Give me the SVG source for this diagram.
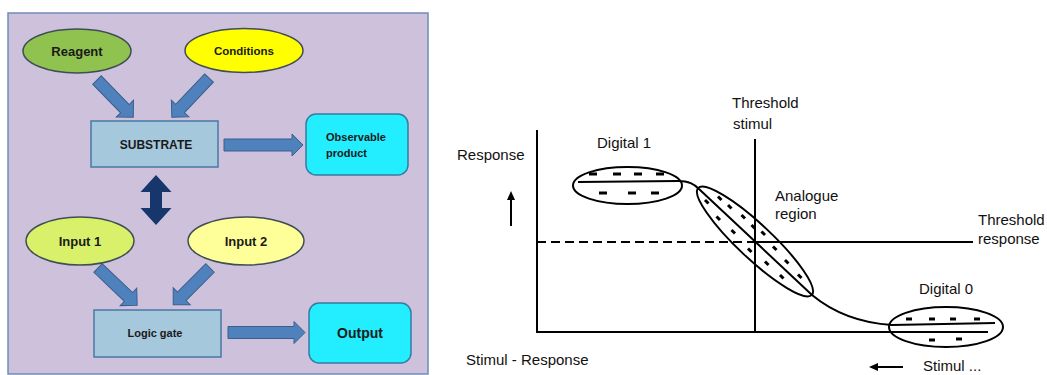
<svg xmlns="http://www.w3.org/2000/svg" width="1047" height="375" viewBox="0 0 1047 375">
<style>
.lbl{font-family:"Liberation Sans",Arial,sans-serif;font-weight:bold;fill:#1a1a1a}
.blk{fill:#4f81bd;stroke:#3a5f8c;stroke-width:1}
.box{fill:#a5c8dc;stroke:#4a78a6;stroke-width:1.5}
.cyan{fill:#22eeff;stroke:#3a7aa0;stroke-width:1.5}
.ell{stroke:#3f4d55;stroke-width:1.5}
.t{font-family:"Liberation Sans",Arial,sans-serif;font-size:15px;fill:#111}
.ln{stroke:#000;stroke-width:2;fill:none}
.dash{stroke:#000;stroke-width:3;stroke-linecap:butt}
</style>
<rect x="0" y="0" width="1047" height="375" fill="#fff"/>
<g id="left-panel">
<rect x="8" y="13" width="420" height="361" fill="#cdc1dc" stroke="#6f8db5" stroke-width="1.5"/>
</g>
<g id="connectors">
<path class="blk" transform="translate(97,80) rotate(45.8)" d="M0,-6 L40,-6 L40,-12 L52,0 L40,12 L40,6 L0,6 Z"/>
<path class="blk" transform="translate(209,78) rotate(133.5)" d="M0,-6 L42,-6 L42,-12 L54,0 L42,12 L42,6 L0,6 Z"/>
<path class="blk" transform="translate(224,145)" d="M0,-6 L68,-6 L68,-11 L79,0 L68,11 L68,6 L0,6 Z"/>
<path fill="#17366b" d="M156,175 L171.5,192 L162,192 L162,208 L171.5,208 L156,225 L140.5,208 L150,208 L150,192 L140.5,192 Z"/>
<path class="blk" transform="translate(98,268) rotate(43.5)" d="M0,-6 L42,-6 L42,-12 L54,0 L42,12 L42,6 L0,6 Z"/>
<path class="blk" transform="translate(210,268) rotate(135)" d="M0,-6 L40,-6 L40,-12 L52,0 L40,12 L40,6 L0,6 Z"/>
<path class="blk" transform="translate(228,332.5)" d="M0,-6 L66,-6 L66,-11 L77,0 L66,11 L66,6 L0,6 Z"/>
</g>
<g id="reagent">
<ellipse class="ell" cx="77" cy="51" rx="54" ry="22" fill="#8fc24f"/>
<text class="lbl" x="77" y="56" font-size="13" text-anchor="middle">Reagent</text>
</g>
<g id="conditions">
<ellipse class="ell" cx="244" cy="50.5" rx="59" ry="22" fill="#ffff00"/>
<text class="lbl" x="244" y="55" font-size="11.5" text-anchor="middle">Conditions</text>
</g>
<g id="substrate">
<rect class="box" x="91" y="121" width="127" height="46"/>
<text class="lbl" x="156" y="149" font-size="12" text-anchor="middle">SUBSTRATE</text>
</g>
<g id="observable">
<rect class="cyan" x="306" y="114" width="102" height="61" rx="10"/>
<text class="lbl" x="326" y="141" font-size="11">Observable</text>
<text class="lbl" x="326" y="157" font-size="11">product</text>
</g>
<g id="input1">
<ellipse class="ell" cx="80" cy="241" rx="54" ry="24" fill="#d8f06a"/>
<text class="lbl" x="80" y="246" font-size="13" text-anchor="middle">Input 1</text>
</g>
<g id="input2">
<ellipse class="ell" cx="246" cy="241" rx="58" ry="24" fill="#ffff99"/>
<text class="lbl" x="246" y="246" font-size="13" text-anchor="middle">Input 2</text>
</g>
<g id="logic-gate">
<rect class="box" x="94" y="310" width="127" height="47"/>
<text class="lbl" x="155" y="337" font-size="11" text-anchor="middle">Logic gate</text>
</g>
<g id="output">
<rect class="cyan" x="309" y="303" width="102" height="60" rx="10"/>
<text class="lbl" x="360" y="338" font-size="14" text-anchor="middle">Output</text>
</g>
<g id="graph">
<line class="ln" x1="537" y1="130" x2="537" y2="333"/>
<line class="ln" x1="536" y1="332" x2="988" y2="332"/>
<line class="ln" x1="755" y1="139" x2="755" y2="332"/>
<line class="ln" x1="537" y1="242" x2="755" y2="242" stroke-dasharray="9 5"/>
<line class="ln" x1="755" y1="242" x2="973" y2="242"/>
<path class="ln" d="M578,182 L678,181 C689,181 694,184 699,189 L812,295 C835,314 860,323 892,325 L995,323"/>
<ellipse class="ln" cx="627.5" cy="185.5" rx="54.5" ry="18.5"/>
<ellipse class="ln" cx="755" cy="241.5" rx="78" ry="17" transform="rotate(43.2 755 241.5)"/>
<ellipse class="ln" cx="946" cy="327" rx="57" ry="20"/>
<g class="dash">
<line x1="589" y1="174" x2="597" y2="174"/><line x1="613" y1="174" x2="621" y2="174"/><line x1="634" y1="174" x2="642" y2="174"/><line x1="656" y1="174" x2="664" y2="174"/>
<line x1="599" y1="193" x2="607" y2="193"/><line x1="628" y1="193" x2="636" y2="193"/><line x1="651" y1="193" x2="659" y2="193"/>
<line x1="906" y1="319" x2="912" y2="319"/><line x1="929" y1="319" x2="935" y2="319"/><line x1="950" y1="319" x2="956" y2="319"/><line x1="974" y1="319" x2="980" y2="319"/>
<line x1="929" y1="340" x2="935" y2="340"/><line x1="956" y1="339" x2="962" y2="339"/>
<line x1="705" y1="200" x2="708.5" y2="203.5"/><line x1="718" y1="196.5" x2="721.5" y2="200"/><line x1="728" y1="205" x2="731.5" y2="208.5"/><line x1="741.5" y1="215" x2="745" y2="218.5"/><line x1="751.5" y1="225" x2="755" y2="228.5"/><line x1="761.5" y1="231.5" x2="765" y2="235"/><line x1="773" y1="246.5" x2="776.5" y2="250"/><line x1="785" y1="260" x2="788.5" y2="263.5"/><line x1="798" y1="274.5" x2="801.5" y2="278"/>
<line x1="716.5" y1="216.5" x2="720" y2="220"/><line x1="731.5" y1="230" x2="735" y2="233.5"/><line x1="748" y1="248.5" x2="751.5" y2="252"/><line x1="765" y1="261.5" x2="768.5" y2="265"/><line x1="780" y1="275" x2="783.5" y2="278.5"/>
</g>
<line class="ln" x1="511" y1="226" x2="511" y2="197"/>
<path d="M511,191 L507,200 L515,200 Z" fill="#000"/>
<line class="ln" x1="903" y1="367" x2="876" y2="367"/>
<path d="M869,367 L878,363 L878,371 Z" fill="#000"/>
<text class="t" x="732" y="108">Threshold</text>
<text class="t" x="733" y="129">stimul</text>
<text class="t" x="457" y="160">Response</text>
<text class="t" x="597" y="148">Digital 1</text>
<text class="t" x="775" y="201">Analogue</text>
<text class="t" x="775" y="219">region</text>
<text class="t" x="978" y="225">Threshold</text>
<text class="t" x="978" y="244">response</text>
<text class="t" x="919" y="294">Digital 0</text>
<text class="t" x="466" y="365">Stimul - Response</text>
<text class="t" x="923" y="371">Stimul ...</text>
</g>
</svg>
